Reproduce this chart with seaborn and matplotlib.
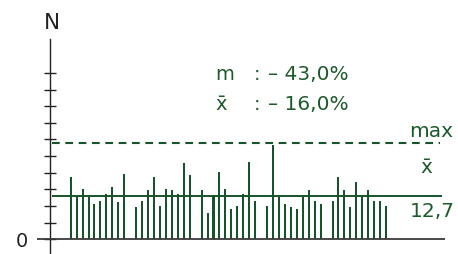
import matplotlib
matplotlib.use('Agg')
import matplotlib.pyplot as plt
import seaborn as sns
import pandas as pd
import numpy as np

#%% Data %%#
# one slot per day, every 11th slot is empty
slots = list(range(0, 10)) + list(range(11, 21)) + list(range(22, 32)) \
      + list(range(33, 43)) + list(range(44, 54))
counts = [18.2, 12.7, 14.7, 12.2, 10.2, 11.2, 13.2, 15.2, 10.8, 19.1,
          9.3, 11.2, 14.3, 18.2, 9.7, 14.7, 14.3, 13.2, 22.2, 18.7,
          14.3, 7.8, 12.7, 19.6, 14.8, 8.7, 9.7, 13.2, 22.6, 11.2,
          9.7, 27.5, 12.2, 10.2, 9.3, 8.7, 12.2, 14.3, 11.2, 10.2,
          11.2, 18.2, 14.3, 9.3, 16.7, 12.2, 14.3, 11.2, 11.2, 9.7]
mean_val = 12.7
max_val = 28.2
mean_label = '12,7'
stats_rows = [('m', '– 43,0%'), ('x\u0304', '– 16,0%')]

df = pd.DataFrame({'slot': slots, 'N': counts})

#%% Plot %%#
W, H = 458, 254
green = '#17532a'
txtgreen = '#1d5a2b'

sns.set_style('white')
plt.rcParams['font.family'] = ['DejaVu Sans']

fig = plt.figure(figsize=(W/100, H/100), dpi=100)
ax = fig.add_axes([37/W, 0, 408/W, 215/H])

sns.barplot(data=df, x='slot', y='N', native_scale=True, width=0.34,
            color=green, saturation=1, linewidth=0, errorbar=None, ax=ax)

ax.set_xlim(-5.66, 62.9)
ax.set_ylim(-4.29, 58.4)

#---- reference lines ----#
ax.axhline(0, color='#3a3a3a', lw=1.3, zorder=3)
ax.hlines(mean_val, -3.14, 62.35, color=green, lw=1.4)
ax.hlines(max_val, -3.14, 62.1, color=green, lw=1.5,
          linestyles=[(0, (3.7, 2.7))])

#---- axis ----#
for s in ['top', 'right', 'bottom']:
    ax.spines[s].set_visible(False)
ax.spines['left'].set_position(('data', -3.48))
ax.spines['left'].set_color('#222222')
ax.spines['left'].set_linewidth(1.0)
yt = [0] + list(np.arange(1, 11) * 4.85)
ax.set_yticks(yt)
ax.set_yticklabels(['0'] + [''] * 10)
ax.tick_params(axis='y', left=True, direction='inout', length=8, width=1.0,
               color='#222222', pad=12, labelsize=14, labelcolor='#222222')
ax.set_xticks([])
ax.set_xlabel('')
ax.set_ylabel('')

#---- text ----#
def ftext(x, y, s, **kw):
    fig.text(x/W, 1 - y/H, s, **kw)

ftext(52, 29, 'N', ha='center', va='baseline', fontsize=15.5, color='#222222')
for i, (lab, val) in enumerate(stats_rows):
    yb = 80 + 30*i
    ftext(215, yb, lab, ha='left', va='baseline', fontsize=14, color=txtgreen)
    ftext(257, yb, ':', ha='center', va='baseline', fontsize=14, color=txtgreen)
    ftext(268, yb, val, ha='left', va='baseline', fontsize=14.5, color=txtgreen)
ftext(453, 137, 'max', ha='right', va='baseline', fontsize=14.5, color=txtgreen)
ftext(426, 173, 'x\u0304', ha='center', va='baseline', fontsize=14.5, color=txtgreen)
ftext(455, 217, mean_label, ha='right', va='baseline', fontsize=14.5, color=txtgreen)

fig.savefig('out.png', dpi=100)
